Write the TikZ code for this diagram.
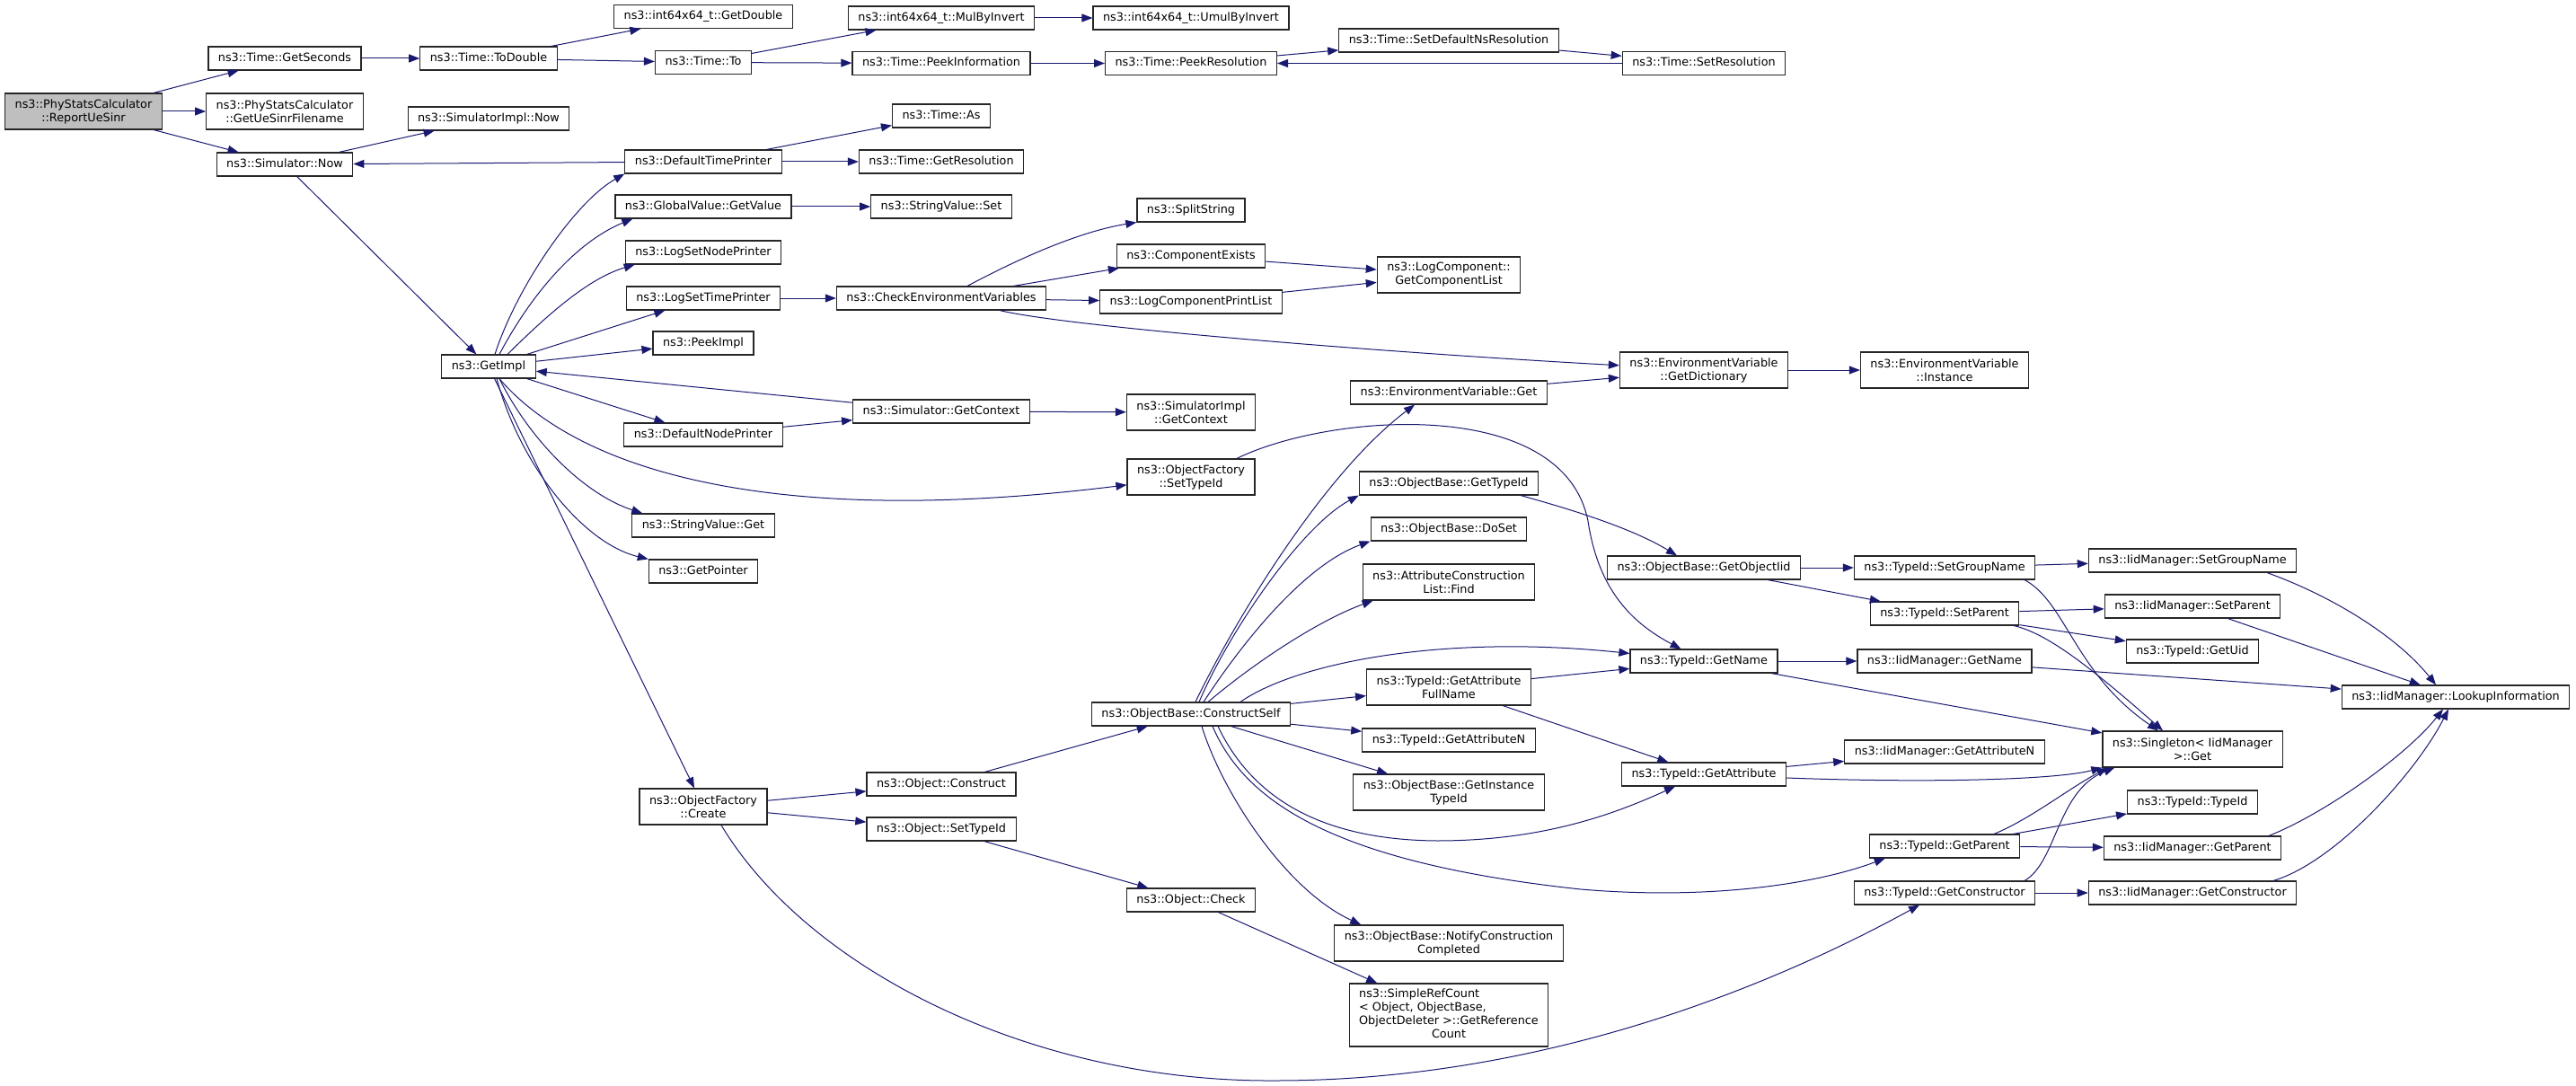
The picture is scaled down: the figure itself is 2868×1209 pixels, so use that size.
\documentclass[tikz,border=0pt]{standalone}
\usepackage{fontspec}
\setmainfont{DejaVu Sans}
\usetikzlibrary{arrows.meta}

\definecolor{edgeblue}{HTML}{191970}
\definecolor{rootgray}{HTML}{BFBFBF}
\newcommand{\dox}{\fontsize{12.8}{15}\selectfont}

\tikzset{
    fn/.style={draw=black!85, line width=1.2pt, fill=white, font=\dox,
        inner xsep=11pt, inner ysep=6.6pt, text height=9.6pt, text depth=3.1pt},
    fnii/.style={draw=black!85, line width=1.2pt, fill=white, font=\dox,
        inner xsep=11pt, inner ysep=3pt, align=center, minimum height=40pt},
    fniv/.style={fnii, minimum height=70pt},
    root/.style={fnii, fill=rootgray},
    call/.style={draw=edgeblue, line width=1pt, -{Triangle[length=12pt,width=9pt]}}
}

\begin{document}
\begin{tikzpicture}[x=1pt, y=-1pt]
            \useasboundingbox (0,0) rectangle (2868,1209);
            \node[root] (report) at (93,124) {ns3::PhyStatsCalculator\\::ReportUeSinr};
            \node[fn] (getSeconds) at (317,65) {ns3::Time::GetSeconds};
            \node[fnii] (ueFile) at (317,124) {ns3::PhyStatsCalculator\\::GetUeSinrFilename};
            \node[fn] (simNow) at (317,183) {ns3::Simulator::Now};
            \node[fn] (toDouble) at (544,65) {ns3::Time::ToDouble};
            \node[fn] (simImplNow) at (544,132) {ns3::SimulatorImpl::Now};
            \node[fn] (getImpl) at (544,408) {ns3::GetImpl};
            \node[fn] (getDouble) at (783,18.5) {ns3::int64x64\_t::GetDouble};
            \node[fn] (timeTo) at (783,69.5) {ns3::Time::To};
            \node[fn] (defTime) at (783,180) {ns3::DefaultTimePrinter};
            \node[fn] (getValue) at (783,230) {ns3::GlobalValue::GetValue};
            \node[fn] (setNodePr) at (783,281) {ns3::LogSetNodePrinter};
            \node[fn] (setTimePr) at (783,332) {ns3::LogSetTimePrinter};
            \node[fn] (peekImpl) at (783,382) {ns3::PeekImpl};
            \node[fn] (defNode) at (783,484) {ns3::DefaultNodePrinter};
            \node[fn] (strGet) at (783,585) {ns3::StringValue::Get};
            \node[fn] (getPtr) at (783,636) {ns3::GetPointer};
            \node[fnii] (ofCreate) at (783,898) {ns3::ObjectFactory\\::Create};
            \node[fn] (mulInv) at (1048,20) {ns3::int64x64\_t::MulByInvert};
            \node[fn] (peekInfo) at (1048,70.5) {ns3::Time::PeekInformation};
            \node[fn] (timeAs) at (1048,129) {ns3::Time::As};
            \node[fn] (getRes) at (1048,180) {ns3::Time::GetResolution};
            \node[fn] (strSet) at (1048,230) {ns3::StringValue::Set};
            \node[fn] (checkEnv) at (1048,332) {ns3::CheckEnvironmentVariables};
            \node[fn] (simCtx) at (1048,458) {ns3::Simulator::GetContext};
            \node[fn] (objCons) at (1048,873) {ns3::Object::Construct};
            \node[fn] (objSetTid) at (1048,923) {ns3::Object::SetTypeId};
            \node[fn] (umulInv) at (1326,20) {ns3::int64x64\_t::UmulByInvert};
            \node[fn] (peekRes) at (1326,70.5) {ns3::Time::PeekResolution};
            \node[fn] (split) at (1326,234) {ns3::SplitString};
            \node[fn] (compExists) at (1326,285) {ns3::ComponentExists};
            \node[fn] (printList) at (1326,336) {ns3::LogComponentPrintList};
            \node[fnii] (implCtx) at (1326,459) {ns3::SimulatorImpl\\::GetContext};
            \node[fnii] (ofSetTid) at (1326,531) {ns3::ObjectFactory\\::SetTypeId};
            \node[fn] (consSelf) at (1326,795) {ns3::ObjectBase::ConstructSelf};
            \node[fn] (objCheck) at (1326,1002) {ns3::Object::Check};
            \node[fn] (setDefRes) at (1613,45) {ns3::Time::SetDefaultNsResolution};
            \node[fnii] (compList) at (1613,306) {ns3::LogComponent::\\GetComponentList};
            \node[fn] (envGet) at (1613,437) {ns3::EnvironmentVariable::Get};
            \node[fn] (obGetTid) at (1613,538) {ns3::ObjectBase::GetTypeId};
            \node[fn] (doSet) at (1613,589) {ns3::ObjectBase::DoSet};
            \node[fnii] (acFind) at (1613,648) {ns3::AttributeConstruction\\List::Find};
            \node[fnii] (attrFull) at (1613,765) {ns3::TypeId::GetAttribute\\FullName};
            \node[fn] (attrN) at (1613,824) {ns3::TypeId::GetAttributeN};
            \node[fnii] (instTid) at (1613,882) {ns3::ObjectBase::GetInstance\\TypeId};
            \node[fnii] (notify) at (1613,1050) {ns3::ObjectBase::NotifyConstruction\\Completed};
            \node[fniv] (refCount) at (1613,1130) {\begin{tabular}{@{}l@{}}ns3::SimpleRefCount\\< Object, ObjectBase,\\\multicolumn{1}{@{}c@{}}{ObjectDeleter >::GetReference}\\\multicolumn{1}{@{}c@{}}{Count}\end{tabular}};
            \node[fn] (setRes) at (1897,70.5) {ns3::Time::SetResolution};
            \node[fnii] (envDict) at (1897,412) {ns3::EnvironmentVariable\\::GetDictionary};
            \node[fn] (objIid) at (1897,632) {ns3::ObjectBase::GetObjectIid};
            \node[fn] (tName) at (1897,736) {ns3::TypeId::GetName};
            \node[fn] (tAttr) at (1897,862) {ns3::TypeId::GetAttribute};
            \node[fnii] (envInst) at (2165,412) {ns3::EnvironmentVariable\\::Instance};
            \node[fn] (tGroup) at (2165,632) {ns3::TypeId::SetGroupName};
            \node[fn] (tSetPar) at (2165,683) {ns3::TypeId::SetParent};
            \node[fn] (iName) at (2165,736) {ns3::IidManager::GetName};
            \node[fn] (iAttrN) at (2165,837) {ns3::IidManager::GetAttributeN};
            \node[fn] (tPar) at (2165,942) {ns3::TypeId::GetParent};
            \node[fn] (tCtor) at (2165,994) {ns3::TypeId::GetConstructor};
            \node[fn] (iGroup) at (2441,624) {ns3::IidManager::SetGroupName};
            \node[fn] (iSetPar) at (2441,675) {ns3::IidManager::SetParent};
            \node[fn] (tUid) at (2441,725) {ns3::TypeId::GetUid};
            \node[fnii] (single) at (2441,834) {ns3::Singleton< IidManager\\ >::Get};
            \node[fn] (tTypeId) at (2441,893) {ns3::TypeId::TypeId};
            \node[fn] (iPar) at (2441,944) {ns3::IidManager::GetParent};
            \node[fn] (iCtor) at (2441,994) {ns3::IidManager::GetConstructor};
            \node[fn] (lookup) at (2734,776) {ns3::IidManager::LookupInformation};

            % straight calls
            \foreach \from/\to in {report/getSeconds, report/ueFile, report/simNow,
                    getSeconds/toDouble, toDouble/getDouble, toDouble/timeTo,
                    timeTo/mulInv, timeTo/peekInfo, mulInv/umulInv, peekInfo/peekRes,
                    peekRes/setDefRes, setDefRes/setRes, setRes/peekRes,
                    simNow/simImplNow, simNow/getImpl, defTime/simNow, defTime/timeAs,
                    defTime/getRes, getValue/strSet, setTimePr/checkEnv,
                    checkEnv/compExists, checkEnv/printList, compExists/compList,
                    printList/compList, envDict/envInst, envGet/envDict,
                    getImpl/setTimePr, getImpl/peekImpl, getImpl/defNode, getImpl/ofCreate,
                    simCtx/getImpl, defNode/simCtx, simCtx/implCtx,
                    ofCreate/objCons, ofCreate/objSetTid, objCons/consSelf,
                    objSetTid/objCheck, objCheck/refCount, consSelf/attrFull,
                    consSelf/attrN, consSelf/instTid, objIid/tGroup, objIid/tSetPar,
                    attrFull/tName, attrFull/tAttr, tName/iName, tName/single,
                    tAttr/iAttrN, tGroup/iGroup, tSetPar/iSetPar,
                    tSetPar/tUid, iName/lookup, iSetPar/lookup, tPar/tTypeId,
                    tPar/iPar, tCtor/iCtor}{%
                    \draw[call] (\from) -- (\to);
                }

            % curved calls
            \draw[call] ([xshift=7pt]getImpl.north) .. controls (575,320) and (640,225) .. (defTime.south west);
            \draw[call] ([xshift=12pt]getImpl.north) .. controls (590,330) and (640,270) .. ([xshift=20pt]getValue.south west);
            \draw[call] ([xshift=21pt]getImpl.north) .. controls (610,350) and (655,310) .. ([xshift=11pt]setNodePr.south west);
            \draw[call] ([xshift=12pt]getImpl.south) .. controls (590,490) and (650,550) .. ([xshift=12pt]strGet.north west);
            \draw[call] ([xshift=9pt]getImpl.south) .. controls (580,520) and (650,605) .. (getPtr.north west);
            \draw[call] ([xshift=12pt]getImpl.south) .. controls (640,520) and (850,590) .. (ofSetTid);
            \draw[call] ([xshift=29pt]checkEnv.north) .. controls (1130,290) and (1200,258) .. (split.south west);
            \draw[call] ([xshift=65pt]checkEnv.south) .. controls (1180,362) and (1500,390) .. (envDict);
            \draw[call] ([xshift=51pt]ofSetTid.north) .. controls (1480,460) and (1740,440) .. (1768,580)
                .. controls (1780,660) and (1820,695) .. (tName);
            \draw[call] ([xshift=20pt]ofCreate.south) .. controls (900,1080) and (1150,1205) .. (1420,1203)
                .. controls (1700,1203) and (1950,1110) .. ([xshift=-28pt]tCtor.south);
            \draw[call] ([xshift=5pt]consSelf.north) .. controls (1370,700) and (1470,530) .. ([xshift=-38pt]envGet.south);
            \draw[call] ([xshift=9pt]consSelf.north) .. controls (1370,700) and (1450,585) .. (obGetTid.south west);
            \draw[call] ([xshift=14pt]consSelf.north) .. controls (1380,720) and (1450,630) .. (doSet.south west);
            \draw[call] ([xshift=19pt]consSelf.north) .. controls (1400,735) and (1470,690) .. ([xshift=12pt]acFind.south west);
            \draw[call] ([xshift=55pt]consSelf.north) .. controls (1440,740) and (1600,705) .. ([yshift=-5pt]tName.north west);
            \draw[call] ([xshift=30pt]consSelf.south) .. controls (1390,880) and (1460,935) .. (1600,936)
                .. controls (1720,936) and (1800,905) .. ([xshift=-32pt]tAttr.south);
            \draw[call] ([xshift=24pt]consSelf.south) .. controls (1385,890) and (1480,960) .. (1760,990)
                .. controls (1900,1002) and (2020,985) .. ([xshift=18pt]tPar.south west);
            \draw[call] ([xshift=12pt]consSelf.south) .. controls (1360,880) and (1430,990) .. ([xshift=30pt]notify.north west);
            \draw[call] ([xshift=80pt]obGetTid.south) .. controls (1760,570) and (1820,590) .. ([xshift=-30pt]objIid.north);
            \draw[call] ([yshift=-4pt]tAttr.east) .. controls (2150,872) and (2290,868) .. (single.south west);
            \draw[call] ([xshift=89pt]tGroup.south) .. controls (2300,670) and (2310,750) .. ([xshift=-38pt]single.north);
            \draw[call] ([xshift=77pt]tSetPar.south) .. controls (2280,705) and (2330,745) .. ([xshift=-33pt]single.north);
            \draw[call] ([xshift=55pt]tPar.north) .. controls (2260,912) and (2300,880) .. ([xshift=6pt]single.south west);
            \draw[call] ([xshift=89pt]tCtor.north) .. controls (2290,960) and (2290,880) .. ([xshift=14pt]single.south west);
            \draw[call] ([xshift=83pt]iGroup.south) .. controls (2600,665) and (2670,710) .. ([xshift=-22pt]lookup.north);
            \draw[call] ([xshift=85pt]iPar.north) .. controls (2590,905) and (2680,840) .. ([xshift=-14pt]lookup.south);
            \draw[call] ([xshift=90pt]iCtor.north) .. controls (2600,960) and (2690,860) .. ([xshift=-8pt]lookup.south);
        \end{tikzpicture}
\end{document}
